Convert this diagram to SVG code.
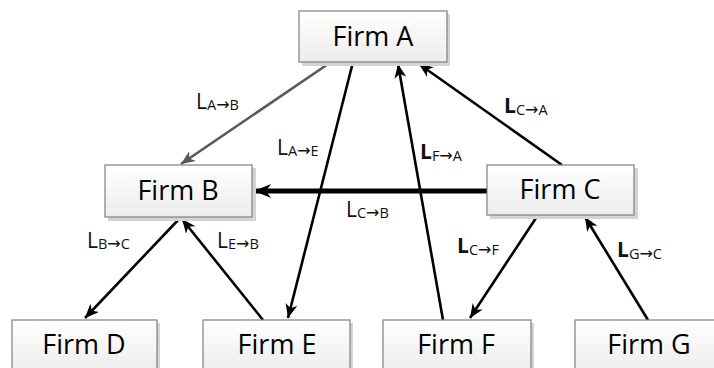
<svg xmlns="http://www.w3.org/2000/svg" width="714" height="368" viewBox="0 0 714 368">
<style>
.box{fill:url(#g);stroke:#7f7f7f;stroke-width:1.2}
.sh{fill:#d4d4d4}
.nt{font-family:"Open Sans","DejaVu Sans",sans-serif;font-size:27px;fill:#000;text-anchor:middle}
.ln{stroke:#000;stroke-width:2.6;fill:none;marker-end:url(#ah)}
.lb{font-family:"Open Sans","DejaVu Sans",sans-serif;font-size:21px;fill:#111}
.sb{font-size:14.5px;font-weight:normal}
.ar{font-family:"DejaVu Sans",sans-serif;font-size:16px}
.bd{font-weight:bold}
</style>
<defs>
<linearGradient id="g" x1="0" y1="0" x2="0" y2="1">
<stop offset="0" stop-color="#ffffff"/>
<stop offset="1" stop-color="#ececec"/>
</linearGradient>
<marker id="ah" markerUnits="userSpaceOnUse" markerWidth="16" markerHeight="12" refX="14" refY="6" orient="auto">
<path d="M0,0 L14,6 L0,12 L4,6 z" fill="#000"/>
</marker>
<marker id="ahg" markerUnits="userSpaceOnUse" markerWidth="16" markerHeight="12" refX="14" refY="6" orient="auto">
<path d="M0,0 L14,6 L0,12 L4,6 z" fill="#595959"/>
</marker>
<marker id="ahb" markerUnits="userSpaceOnUse" markerWidth="18" markerHeight="14" refX="17" refY="7" orient="auto">
<path d="M0,0 L17,7 L0,14 L5,7 z" fill="#000"/>
</marker>
</defs>

<g id="connectors">
<line x1="331" y1="62" x2="181" y2="164" stroke="#595959" stroke-width="2.6" marker-end="url(#ahg)"/>
<line class="ln" x1="353" y1="62" x2="288" y2="318"/>
<line class="ln" x1="443" y1="320" x2="398" y2="64"/>
<line class="ln" x1="562" y1="165" x2="419" y2="64"/>
<line x1="487" y1="191" x2="254" y2="191" stroke="#000" stroke-width="5" marker-end="url(#ahb)"/>
<line class="ln" x1="180" y1="218" x2="85" y2="318"/>
<line class="ln" x1="263" y1="320" x2="182" y2="219"/>
<line class="ln" x1="538" y1="215" x2="470" y2="318"/>
<line class="ln" x1="648" y1="320" x2="585" y2="217"/>
</g>

<g id="labels">
<text class="lb" x="196" y="109">L<tspan class="sb" dy="1">A<tspan class="ar">→</tspan>B</tspan></text>
<text class="lb" x="277" y="155">L<tspan class="sb" dy="1">A<tspan class="ar">→</tspan>E</tspan></text>
<text class="lb bd" x="504" y="113">L<tspan class="sb" dy="2">C<tspan class="ar">→</tspan>A</tspan></text>
<text class="lb bd" x="420" y="159">L<tspan class="sb" dy="2">F<tspan class="ar">→</tspan>A</tspan></text>
<text class="lb" x="346" y="217">L<tspan class="sb" dy="1">C<tspan class="ar">→</tspan>B</tspan></text>
<text class="lb" x="87" y="248">L<tspan class="sb" dy="1">B<tspan class="ar">→</tspan>C</tspan></text>
<text class="lb" x="217" y="248">L<tspan class="sb" dy="1">E<tspan class="ar">→</tspan>B</tspan></text>
<text class="lb bd" x="457" y="253">L<tspan class="sb" dy="2">C<tspan class="ar">→</tspan>F</tspan></text>
<text class="lb bd" x="617" y="257">L<tspan class="sb" dy="2">G<tspan class="ar">→</tspan>C</tspan></text>
</g>

<g id="firmA">
<rect class="sh" x="302" y="14" width="148" height="52"/>
<rect class="box" x="299" y="11" width="148" height="51"/>
<text class="nt" x="373" y="46">Firm A</text>
</g>
<g id="firmB">
<rect class="sh" x="108" y="168" width="148" height="53"/>
<rect class="box" x="105" y="165" width="147" height="52"/>
<text class="nt" x="178" y="200">Firm B</text>
</g>
<g id="firmC">
<rect class="sh" x="490" y="168" width="148" height="51"/>
<rect class="box" x="487" y="165" width="147" height="50"/>
<text class="nt" x="560" y="199">Firm C</text>
</g>
<g id="firmD">
<rect class="sh" x="15" y="323" width="145" height="50"/>
<rect class="box" x="12" y="320" width="145" height="52"/>
<text class="nt" x="84" y="354">Firm D</text>
</g>
<g id="firmE">
<rect class="sh" x="206" y="323" width="147" height="50"/>
<rect class="box" x="203" y="320" width="147" height="52"/>
<text class="nt" x="277" y="354">Firm E</text>
</g>
<g id="firmF">
<rect class="sh" x="386" y="323" width="148" height="50"/>
<rect class="box" x="383" y="320" width="148" height="52"/>
<text class="nt" x="456" y="354">Firm F</text>
</g>
<g id="firmG">
<rect class="sh" x="578" y="323" width="148" height="50"/>
<rect class="box" x="575" y="320" width="148" height="52"/>
<text class="nt" x="649" y="354">Firm G</text>
</g>
</svg>
